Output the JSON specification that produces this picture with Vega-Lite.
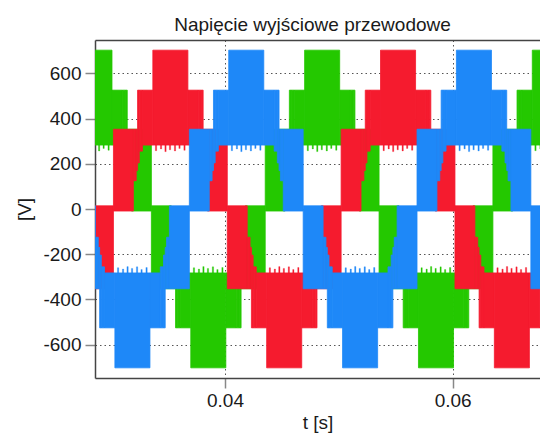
{
  "$schema": "https://vega.github.io/schema/vega-lite/v6.json",
  "width": 445,
  "height": 338,
  "autosize": {"type": "none"},
  "padding": {"left": 95, "top": 40, "right": 0, "bottom": 56},
  "background": "white",
  "title": {"text": "Napięcie wyjściowe przewodowe", "fontSize": 19, "font": "Liberation Sans", "fontWeight": "normal", "color": "#1a1a1a", "offset": 5, "dx": -5},
  "datasets": {
    "bands": [
      {"p":"g","a":0.026993,"b":0.030073,"lo":283,"hi":703},
      {"p":"g","a":0.030073,"b":0.030983,"lo":283,"hi":526},
      {"p":"g","a":0.030983,"b":0.031263,"lo":256,"hi":526},
      {"p":"g","a":0.031263,"b":0.031413,"lo":204,"hi":526},
      {"p":"g","a":0.031413,"b":0.031533,"lo":170,"hi":353},
      {"p":"g","a":0.031533,"b":0.031783,"lo":125,"hi":353},
      {"p":"g","a":0.031783,"b":0.033533,"lo":-9,"hi":353},
      {"p":"g","a":0.033533,"b":0.035283,"lo":-353,"hi":14},
      {"p":"g","a":0.035283,"b":0.035533,"lo":-353,"hi":-125},
      {"p":"g","a":0.035533,"b":0.035653,"lo":-353,"hi":-170},
      {"p":"g","a":0.035653,"b":0.035803,"lo":-526,"hi":-204},
      {"p":"g","a":0.035803,"b":0.036083,"lo":-526,"hi":-256},
      {"p":"g","a":0.036083,"b":0.036993,"lo":-526,"hi":-283},
      {"p":"g","a":0.036993,"b":0.040073,"lo":-703,"hi":-283},
      {"p":"g","a":0.040073,"b":0.040983,"lo":-526,"hi":-283},
      {"p":"g","a":0.040983,"b":0.041263,"lo":-526,"hi":-256},
      {"p":"g","a":0.041263,"b":0.041413,"lo":-526,"hi":-204},
      {"p":"g","a":0.041413,"b":0.041533,"lo":-353,"hi":-170},
      {"p":"g","a":0.041533,"b":0.041783,"lo":-353,"hi":-125},
      {"p":"g","a":0.041783,"b":0.043533,"lo":-353,"hi":14},
      {"p":"g","a":0.043533,"b":0.045283,"lo":-9,"hi":353},
      {"p":"g","a":0.045283,"b":0.045533,"lo":125,"hi":353},
      {"p":"g","a":0.045533,"b":0.045653,"lo":170,"hi":353},
      {"p":"g","a":0.045653,"b":0.045803,"lo":204,"hi":526},
      {"p":"g","a":0.045803,"b":0.046083,"lo":256,"hi":526},
      {"p":"g","a":0.046083,"b":0.046993,"lo":283,"hi":526},
      {"p":"g","a":0.046993,"b":0.050073,"lo":283,"hi":703},
      {"p":"g","a":0.050073,"b":0.050983,"lo":283,"hi":526},
      {"p":"g","a":0.050983,"b":0.051263,"lo":256,"hi":526},
      {"p":"g","a":0.051263,"b":0.051413,"lo":204,"hi":526},
      {"p":"g","a":0.051413,"b":0.051533,"lo":170,"hi":353},
      {"p":"g","a":0.051533,"b":0.051783,"lo":125,"hi":353},
      {"p":"g","a":0.051783,"b":0.053533,"lo":-9,"hi":353},
      {"p":"g","a":0.053533,"b":0.055283,"lo":-353,"hi":14},
      {"p":"g","a":0.055283,"b":0.055533,"lo":-353,"hi":-125},
      {"p":"g","a":0.055533,"b":0.055653,"lo":-353,"hi":-170},
      {"p":"g","a":0.055653,"b":0.055803,"lo":-526,"hi":-204},
      {"p":"g","a":0.055803,"b":0.056083,"lo":-526,"hi":-256},
      {"p":"g","a":0.056083,"b":0.056993,"lo":-526,"hi":-283},
      {"p":"g","a":0.056993,"b":0.060073,"lo":-703,"hi":-283},
      {"p":"g","a":0.060073,"b":0.060983,"lo":-526,"hi":-283},
      {"p":"g","a":0.060983,"b":0.061263,"lo":-526,"hi":-256},
      {"p":"g","a":0.061263,"b":0.061413,"lo":-526,"hi":-204},
      {"p":"g","a":0.061413,"b":0.061533,"lo":-353,"hi":-170},
      {"p":"g","a":0.061533,"b":0.061783,"lo":-353,"hi":-125},
      {"p":"g","a":0.061783,"b":0.063533,"lo":-353,"hi":14},
      {"p":"g","a":0.063533,"b":0.065283,"lo":-9,"hi":353},
      {"p":"g","a":0.065283,"b":0.065533,"lo":125,"hi":353},
      {"p":"g","a":0.065533,"b":0.065653,"lo":170,"hi":353},
      {"p":"g","a":0.065653,"b":0.065803,"lo":204,"hi":526},
      {"p":"g","a":0.065803,"b":0.066083,"lo":256,"hi":526},
      {"p":"g","a":0.066083,"b":0.066993,"lo":283,"hi":526},
      {"p":"g","a":0.066993,"b":0.070073,"lo":283,"hi":703},
      {"p":"r","a":0.02845,"b":0.0302,"lo":-353,"hi":14},
      {"p":"r","a":0.0302,"b":0.03195,"lo":-9,"hi":353},
      {"p":"r","a":0.03195,"b":0.0322,"lo":125,"hi":353},
      {"p":"r","a":0.0322,"b":0.03232,"lo":170,"hi":353},
      {"p":"r","a":0.03232,"b":0.03247,"lo":204,"hi":526},
      {"p":"r","a":0.03247,"b":0.03275,"lo":256,"hi":526},
      {"p":"r","a":0.03275,"b":0.03366,"lo":283,"hi":526},
      {"p":"r","a":0.03366,"b":0.03674,"lo":283,"hi":703},
      {"p":"r","a":0.03674,"b":0.03765,"lo":283,"hi":526},
      {"p":"r","a":0.03765,"b":0.03793,"lo":256,"hi":526},
      {"p":"r","a":0.03793,"b":0.03808,"lo":204,"hi":526},
      {"p":"r","a":0.03808,"b":0.0382,"lo":170,"hi":353},
      {"p":"r","a":0.0382,"b":0.03845,"lo":125,"hi":353},
      {"p":"r","a":0.03845,"b":0.0402,"lo":-9,"hi":353},
      {"p":"r","a":0.0402,"b":0.04195,"lo":-353,"hi":14},
      {"p":"r","a":0.04195,"b":0.0422,"lo":-353,"hi":-125},
      {"p":"r","a":0.0422,"b":0.04232,"lo":-353,"hi":-170},
      {"p":"r","a":0.04232,"b":0.04247,"lo":-526,"hi":-204},
      {"p":"r","a":0.04247,"b":0.04275,"lo":-526,"hi":-256},
      {"p":"r","a":0.04275,"b":0.04366,"lo":-526,"hi":-283},
      {"p":"r","a":0.04366,"b":0.04674,"lo":-703,"hi":-283},
      {"p":"r","a":0.04674,"b":0.04765,"lo":-526,"hi":-283},
      {"p":"r","a":0.04765,"b":0.04793,"lo":-526,"hi":-256},
      {"p":"r","a":0.04793,"b":0.04808,"lo":-526,"hi":-204},
      {"p":"r","a":0.04808,"b":0.0482,"lo":-353,"hi":-170},
      {"p":"r","a":0.0482,"b":0.04845,"lo":-353,"hi":-125},
      {"p":"r","a":0.04845,"b":0.0502,"lo":-353,"hi":14},
      {"p":"r","a":0.0502,"b":0.05195,"lo":-9,"hi":353},
      {"p":"r","a":0.05195,"b":0.0522,"lo":125,"hi":353},
      {"p":"r","a":0.0522,"b":0.05232,"lo":170,"hi":353},
      {"p":"r","a":0.05232,"b":0.05247,"lo":204,"hi":526},
      {"p":"r","a":0.05247,"b":0.05275,"lo":256,"hi":526},
      {"p":"r","a":0.05275,"b":0.05366,"lo":283,"hi":526},
      {"p":"r","a":0.05366,"b":0.05674,"lo":283,"hi":703},
      {"p":"r","a":0.05674,"b":0.05765,"lo":283,"hi":526},
      {"p":"r","a":0.05765,"b":0.05793,"lo":256,"hi":526},
      {"p":"r","a":0.05793,"b":0.05808,"lo":204,"hi":526},
      {"p":"r","a":0.05808,"b":0.0582,"lo":170,"hi":353},
      {"p":"r","a":0.0582,"b":0.05845,"lo":125,"hi":353},
      {"p":"r","a":0.05845,"b":0.0602,"lo":-9,"hi":353},
      {"p":"r","a":0.0602,"b":0.06195,"lo":-353,"hi":14},
      {"p":"r","a":0.06195,"b":0.0622,"lo":-353,"hi":-125},
      {"p":"r","a":0.0622,"b":0.06232,"lo":-353,"hi":-170},
      {"p":"r","a":0.06232,"b":0.06247,"lo":-526,"hi":-204},
      {"p":"r","a":0.06247,"b":0.06275,"lo":-526,"hi":-256},
      {"p":"r","a":0.06275,"b":0.06366,"lo":-526,"hi":-283},
      {"p":"r","a":0.06366,"b":0.06674,"lo":-703,"hi":-283},
      {"p":"r","a":0.06674,"b":0.06765,"lo":-526,"hi":-283},
      {"p":"r","a":0.06765,"b":0.06793,"lo":-526,"hi":-256},
      {"p":"b","a":0.026867,"b":0.028617,"lo":-353,"hi":14},
      {"p":"b","a":0.028617,"b":0.028867,"lo":-353,"hi":-125},
      {"p":"b","a":0.028867,"b":0.028987,"lo":-353,"hi":-170},
      {"p":"b","a":0.028987,"b":0.029137,"lo":-526,"hi":-204},
      {"p":"b","a":0.029137,"b":0.029417,"lo":-526,"hi":-256},
      {"p":"b","a":0.029417,"b":0.030327,"lo":-526,"hi":-283},
      {"p":"b","a":0.030327,"b":0.033407,"lo":-703,"hi":-283},
      {"p":"b","a":0.033407,"b":0.034317,"lo":-526,"hi":-283},
      {"p":"b","a":0.034317,"b":0.034597,"lo":-526,"hi":-256},
      {"p":"b","a":0.034597,"b":0.034747,"lo":-526,"hi":-204},
      {"p":"b","a":0.034747,"b":0.034867,"lo":-353,"hi":-170},
      {"p":"b","a":0.034867,"b":0.035117,"lo":-353,"hi":-125},
      {"p":"b","a":0.035117,"b":0.036867,"lo":-353,"hi":14},
      {"p":"b","a":0.036867,"b":0.038617,"lo":-9,"hi":353},
      {"p":"b","a":0.038617,"b":0.038867,"lo":125,"hi":353},
      {"p":"b","a":0.038867,"b":0.038987,"lo":170,"hi":353},
      {"p":"b","a":0.038987,"b":0.039137,"lo":204,"hi":526},
      {"p":"b","a":0.039137,"b":0.039417,"lo":256,"hi":526},
      {"p":"b","a":0.039417,"b":0.040327,"lo":283,"hi":526},
      {"p":"b","a":0.040327,"b":0.043407,"lo":283,"hi":703},
      {"p":"b","a":0.043407,"b":0.044317,"lo":283,"hi":526},
      {"p":"b","a":0.044317,"b":0.044597,"lo":256,"hi":526},
      {"p":"b","a":0.044597,"b":0.044747,"lo":204,"hi":526},
      {"p":"b","a":0.044747,"b":0.044867,"lo":170,"hi":353},
      {"p":"b","a":0.044867,"b":0.045117,"lo":125,"hi":353},
      {"p":"b","a":0.045117,"b":0.046867,"lo":-9,"hi":353},
      {"p":"b","a":0.046867,"b":0.048617,"lo":-353,"hi":14},
      {"p":"b","a":0.048617,"b":0.048867,"lo":-353,"hi":-125},
      {"p":"b","a":0.048867,"b":0.048987,"lo":-353,"hi":-170},
      {"p":"b","a":0.048987,"b":0.049137,"lo":-526,"hi":-204},
      {"p":"b","a":0.049137,"b":0.049417,"lo":-526,"hi":-256},
      {"p":"b","a":0.049417,"b":0.050327,"lo":-526,"hi":-283},
      {"p":"b","a":0.050327,"b":0.053407,"lo":-703,"hi":-283},
      {"p":"b","a":0.053407,"b":0.054317,"lo":-526,"hi":-283},
      {"p":"b","a":0.054317,"b":0.054597,"lo":-526,"hi":-256},
      {"p":"b","a":0.054597,"b":0.054747,"lo":-526,"hi":-204},
      {"p":"b","a":0.054747,"b":0.054867,"lo":-353,"hi":-170},
      {"p":"b","a":0.054867,"b":0.055117,"lo":-353,"hi":-125},
      {"p":"b","a":0.055117,"b":0.056867,"lo":-353,"hi":14},
      {"p":"b","a":0.056867,"b":0.058617,"lo":-9,"hi":353},
      {"p":"b","a":0.058617,"b":0.058867,"lo":125,"hi":353},
      {"p":"b","a":0.058867,"b":0.058987,"lo":170,"hi":353},
      {"p":"b","a":0.058987,"b":0.059137,"lo":204,"hi":526},
      {"p":"b","a":0.059137,"b":0.059417,"lo":256,"hi":526},
      {"p":"b","a":0.059417,"b":0.060327,"lo":283,"hi":526},
      {"p":"b","a":0.060327,"b":0.063407,"lo":283,"hi":703},
      {"p":"b","a":0.063407,"b":0.064317,"lo":283,"hi":526},
      {"p":"b","a":0.064317,"b":0.064597,"lo":256,"hi":526},
      {"p":"b","a":0.064597,"b":0.064747,"lo":204,"hi":526},
      {"p":"b","a":0.064747,"b":0.064867,"lo":170,"hi":353},
      {"p":"b","a":0.064867,"b":0.065117,"lo":125,"hi":353},
      {"p":"b","a":0.065117,"b":0.066867,"lo":-9,"hi":353},
      {"p":"b","a":0.066867,"b":0.068617,"lo":-353,"hi":14}
    ],
    "spikes": [
      {"p":"g","a":0.028884,"b":0.028998,"lo":257,"hi":284},
      {"p":"g","a":0.029280,"b":0.029394,"lo":268,"hi":284},
      {"p":"g","a":0.029719,"b":0.029833,"lo":260,"hi":284},
      {"p":"g","a":0.047216,"b":0.047330,"lo":258,"hi":284},
      {"p":"g","a":0.047655,"b":0.047769,"lo":266,"hi":284},
      {"p":"g","a":0.048050,"b":0.048164,"lo":254,"hi":284},
      {"p":"g","a":0.048445,"b":0.048559,"lo":262,"hi":284},
      {"p":"g","a":0.048884,"b":0.048998,"lo":257,"hi":284},
      {"p":"g","a":0.049280,"b":0.049394,"lo":268,"hi":284},
      {"p":"g","a":0.049719,"b":0.049833,"lo":260,"hi":284},
      {"p":"g","a":0.067216,"b":0.067330,"lo":258,"hi":284},
      {"p":"g","a":0.067655,"b":0.067769,"lo":266,"hi":284},
      {"p":"r","a":0.033883,"b":0.033997,"lo":258,"hi":284},
      {"p":"r","a":0.034322,"b":0.034436,"lo":266,"hi":284},
      {"p":"r","a":0.034717,"b":0.034831,"lo":254,"hi":284},
      {"p":"r","a":0.035112,"b":0.035226,"lo":262,"hi":284},
      {"p":"r","a":0.035551,"b":0.035665,"lo":257,"hi":284},
      {"p":"r","a":0.035947,"b":0.036061,"lo":268,"hi":284},
      {"p":"r","a":0.036386,"b":0.036500,"lo":260,"hi":284},
      {"p":"r","a":0.053883,"b":0.053997,"lo":258,"hi":284},
      {"p":"r","a":0.054322,"b":0.054436,"lo":266,"hi":284},
      {"p":"r","a":0.054717,"b":0.054831,"lo":254,"hi":284},
      {"p":"r","a":0.055112,"b":0.055226,"lo":262,"hi":284},
      {"p":"r","a":0.055551,"b":0.055665,"lo":257,"hi":284},
      {"p":"r","a":0.055947,"b":0.056061,"lo":268,"hi":284},
      {"p":"r","a":0.056386,"b":0.056500,"lo":260,"hi":284},
      {"p":"b","a":0.040550,"b":0.040664,"lo":258,"hi":284},
      {"p":"b","a":0.040989,"b":0.041103,"lo":266,"hi":284},
      {"p":"b","a":0.041384,"b":0.041498,"lo":254,"hi":284},
      {"p":"b","a":0.041779,"b":0.041893,"lo":262,"hi":284},
      {"p":"b","a":0.042218,"b":0.042332,"lo":257,"hi":284},
      {"p":"b","a":0.042614,"b":0.042728,"lo":268,"hi":284},
      {"p":"b","a":0.043053,"b":0.043167,"lo":260,"hi":284},
      {"p":"b","a":0.060550,"b":0.060664,"lo":258,"hi":284},
      {"p":"b","a":0.060989,"b":0.061103,"lo":266,"hi":284},
      {"p":"b","a":0.061384,"b":0.061498,"lo":254,"hi":284},
      {"p":"b","a":0.061779,"b":0.061893,"lo":262,"hi":284},
      {"p":"b","a":0.062218,"b":0.062332,"lo":257,"hi":284},
      {"p":"b","a":0.062614,"b":0.062728,"lo":268,"hi":284},
      {"p":"b","a":0.063053,"b":0.063167,"lo":260,"hi":284},
      {"p":"b","a":0.030550,"b":0.030664,"lo":-284,"hi":-260},
      {"p":"b","a":0.030989,"b":0.031103,"lo":-284,"hi":-266},
      {"p":"b","a":0.031384,"b":0.031498,"lo":-284,"hi":-255},
      {"p":"b","a":0.031779,"b":0.031893,"lo":-284,"hi":-263},
      {"p":"b","a":0.032218,"b":0.032332,"lo":-284,"hi":-256},
      {"p":"b","a":0.032614,"b":0.032728,"lo":-284,"hi":-268},
      {"p":"b","a":0.033053,"b":0.033167,"lo":-284,"hi":-259},
      {"p":"b","a":0.050550,"b":0.050664,"lo":-284,"hi":-260},
      {"p":"b","a":0.050989,"b":0.051103,"lo":-284,"hi":-266},
      {"p":"b","a":0.051384,"b":0.051498,"lo":-284,"hi":-255},
      {"p":"b","a":0.051779,"b":0.051893,"lo":-284,"hi":-263},
      {"p":"b","a":0.052218,"b":0.052332,"lo":-284,"hi":-256},
      {"p":"b","a":0.052614,"b":0.052728,"lo":-284,"hi":-268},
      {"p":"b","a":0.053053,"b":0.053167,"lo":-284,"hi":-259},
      {"p":"g","a":0.037216,"b":0.037330,"lo":-284,"hi":-260},
      {"p":"g","a":0.037655,"b":0.037769,"lo":-284,"hi":-266},
      {"p":"g","a":0.038050,"b":0.038164,"lo":-284,"hi":-255},
      {"p":"g","a":0.038445,"b":0.038559,"lo":-284,"hi":-263},
      {"p":"g","a":0.038884,"b":0.038998,"lo":-284,"hi":-256},
      {"p":"g","a":0.039280,"b":0.039394,"lo":-284,"hi":-268},
      {"p":"g","a":0.039719,"b":0.039833,"lo":-284,"hi":-259},
      {"p":"g","a":0.057216,"b":0.057330,"lo":-284,"hi":-260},
      {"p":"g","a":0.057655,"b":0.057769,"lo":-284,"hi":-266},
      {"p":"g","a":0.058050,"b":0.058164,"lo":-284,"hi":-255},
      {"p":"g","a":0.058445,"b":0.058559,"lo":-284,"hi":-263},
      {"p":"g","a":0.058884,"b":0.058998,"lo":-284,"hi":-256},
      {"p":"g","a":0.059280,"b":0.059394,"lo":-284,"hi":-268},
      {"p":"g","a":0.059719,"b":0.059833,"lo":-284,"hi":-259},
      {"p":"r","a":0.043883,"b":0.043997,"lo":-284,"hi":-260},
      {"p":"r","a":0.044322,"b":0.044436,"lo":-284,"hi":-266},
      {"p":"r","a":0.044717,"b":0.044831,"lo":-284,"hi":-255},
      {"p":"r","a":0.045112,"b":0.045226,"lo":-284,"hi":-263},
      {"p":"r","a":0.045551,"b":0.045665,"lo":-284,"hi":-256},
      {"p":"r","a":0.045947,"b":0.046061,"lo":-284,"hi":-268},
      {"p":"r","a":0.046386,"b":0.046500,"lo":-284,"hi":-259},
      {"p":"r","a":0.063883,"b":0.063997,"lo":-284,"hi":-260},
      {"p":"r","a":0.064322,"b":0.064436,"lo":-284,"hi":-266},
      {"p":"r","a":0.064717,"b":0.064831,"lo":-284,"hi":-255},
      {"p":"r","a":0.065112,"b":0.065226,"lo":-284,"hi":-263},
      {"p":"r","a":0.065551,"b":0.065665,"lo":-284,"hi":-256},
      {"p":"r","a":0.065947,"b":0.066061,"lo":-284,"hi":-268},
      {"p":"r","a":0.066386,"b":0.066500,"lo":-284,"hi":-259}
    ]
  },
  "layer": [
    {
      "data": {"name": "bands"},
      "mark": {"type": "rect", "clip": true, "strokeWidth": 0.8},
      "encoding": {
        "x": {"field": "a", "type": "quantitative", "scale": {"domain": [0.02858, 0.06767], "nice": false, "zero": false},
              "axis": {"values": [0.04, 0.06], "format": ".2f", "title": "t [s]", "grid": true, "labelPadding": 3, "titlePadding": 3}},
        "x2": {"field": "b"},
        "y": {"field": "lo", "type": "quantitative", "scale": {"domain": [-748, 748], "nice": false, "zero": false},
              "axis": {"values": [-600, -400, -200, 0, 200, 400, 600], "labelExpr": "'' + datum.value", "title": "[V]", "grid": true, "labelPadding": 4, "titlePadding": 8}},
        "y2": {"field": "hi"},
        "color": {"field": "p", "type": "nominal", "scale": {"domain": ["g", "r", "b"], "range": ["#24c800", "#f51b2e", "#1e88f8"]}, "legend": null},
        "stroke": {"field": "p", "type": "nominal", "scale": {"domain": ["g", "r", "b"], "range": ["#24c800", "#f51b2e", "#1e88f8"]}, "legend": null}
      }
    },
    {
      "data": {"name": "spikes"},
      "mark": {"type": "rect", "clip": true, "strokeWidth": 0.3},
      "encoding": {
        "x": {"field": "a", "type": "quantitative", "axis": {"orient": "top", "labels": false, "ticks": false, "grid": false, "title": null}},
        "x2": {"field": "b"},
        "y": {"field": "lo", "type": "quantitative"},
        "y2": {"field": "hi"},
        "color": {"field": "p", "type": "nominal", "legend": null},
        "stroke": {"field": "p", "type": "nominal", "legend": null}
      }
    }
  ],
  "resolve": {"axis": {"x": "independent"}},
  "config": {
    "font": "Liberation Sans",
    "view": {"stroke": null},
    "axis": {
      "labelFont": "Liberation Sans", "labelFontSize": 19, "labelColor": "#1a1a1a",
      "titleFont": "Liberation Sans", "titleFontSize": 19, "titleFontWeight": "normal", "titleColor": "#1a1a1a",
      "domainColor": "#444444", "domainWidth": 1.5,
      "tickColor": "#888888", "tickSize": 10, "tickWidth": 1.5,
      "gridColor": "#555555", "gridDash": [1.5, 3], "gridWidth": 1, "gridOpacity": 1
    }
  }
}
